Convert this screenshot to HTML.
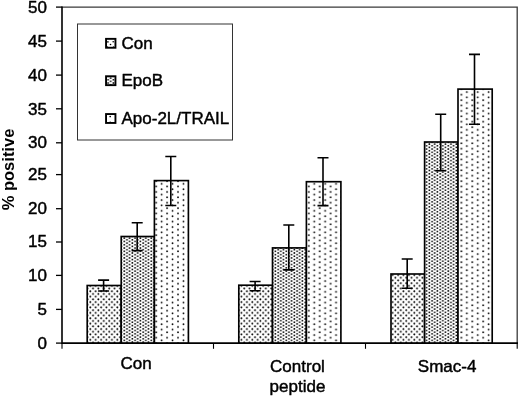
<!DOCTYPE html>
<html><head><meta charset="utf-8"><title>chart</title><style>html,body{margin:0;padding:0;background:#fff}</style></head><body>
<svg width="520" height="397" viewBox="0 0 520 397" style="display:block">
<defs>
<pattern id="p1" width="5.4" height="5.4" patternUnits="userSpaceOnUse" patternTransform="translate(0,1.15)">
<rect width="5.4" height="5.4" fill="#fff"/>
<circle cx="1.2" cy="1.2" r="0.95" fill="#000"/>
<circle cx="3.9" cy="3.9" r="0.95" fill="#000"/>
</pattern>
<pattern id="p2" width="5.4" height="3.3" patternUnits="userSpaceOnUse" patternTransform="translate(-1.15,-0.3)">
<rect width="5.4" height="3.3" fill="#fff"/>
<ellipse cx="1.2" cy="0.8" rx="0.95" ry="0.8" fill="#000"/>
<ellipse cx="3.9" cy="2.45" rx="0.95" ry="0.8" fill="#000"/>
</pattern>
<pattern id="p3" width="10.9" height="5.4" patternUnits="userSpaceOnUse" patternTransform="translate(1.6,1.8)">
<rect width="10.9" height="5.4" fill="#fff"/>
<circle cx="2" cy="1.2" r="0.9" fill="#000"/>
<circle cx="7.45" cy="3.9" r="0.9" fill="#000"/>
</pattern>
</defs>
<rect width="520" height="397" fill="#fff"/>
<path d="M62 7.1 H517.2 V343" stroke="#3a3a3a" stroke-width="1.3" fill="none"/>
<g stroke="#000" stroke-width="1.6" fill="none">
<path d="M62 6.4 V343.1 H518"/>
</g>
<g stroke="#000" stroke-width="1.3" fill="none">
<path d="M56 343.1 H62"/>
<path d="M56 309.4 H62"/>
<path d="M56 275.4 H62"/>
<path d="M56 242.0 H62"/>
<path d="M56 208.7 H62"/>
<path d="M56 174.6 H62"/>
<path d="M56 142.8 H62"/>
<path d="M56 108.8 H62"/>
<path d="M56 75.1 H62"/>
<path d="M56 41.1 H62"/>
<path d="M56 7.1 H62"/>
</g>
<g stroke="#000" stroke-width="1.1" fill="none">
<path d="M62 343 V348.8"/>
<path d="M213.5 343 V348.8"/>
<path d="M365.5 343 V348.8"/>
<path d="M517.2 343 V348.8"/>
</g>
<rect x="87.2" y="285.5" width="34.0" height="57.5" fill="url(#p1)" stroke="#000" stroke-width="1.65"/>
<rect x="121.2" y="236.5" width="33.2" height="106.5" fill="url(#p2)" stroke="#000" stroke-width="1.65"/>
<rect x="154.4" y="180.6" width="34.0" height="162.4" fill="url(#p3)" stroke="#000" stroke-width="1.65"/>
<path d="M103.6 280.1 V291.0 M98.1 280.1 h11 M98.1 291.0 h11" stroke="#000" stroke-width="1.6" fill="none"/>
<path d="M137.2 222.8 V250.6 M131.7 222.8 h11 M131.7 250.6 h11" stroke="#000" stroke-width="1.6" fill="none"/>
<path d="M170.8 156.5 V205.5 M165.3 156.5 h11 M165.3 205.5 h11" stroke="#000" stroke-width="1.6" fill="none"/>
<rect x="238.8" y="285.2" width="33.7" height="57.8" fill="url(#p1)" stroke="#000" stroke-width="1.65"/>
<rect x="272.5" y="247.9" width="33.9" height="95.1" fill="url(#p2)" stroke="#000" stroke-width="1.65"/>
<rect x="306.4" y="181.7" width="34.5" height="161.3" fill="url(#p3)" stroke="#000" stroke-width="1.65"/>
<path d="M255.1 281.5 V290.7 M249.6 281.5 h11 M249.6 290.7 h11" stroke="#000" stroke-width="1.6" fill="none"/>
<path d="M288.8 225.0 V269.9 M283.3 225.0 h11 M283.3 269.9 h11" stroke="#000" stroke-width="1.6" fill="none"/>
<path d="M323.0 157.8 V205.6 M317.5 157.8 h11 M317.5 205.6 h11" stroke="#000" stroke-width="1.6" fill="none"/>
<rect x="391.0" y="274.0" width="33.6" height="69.0" fill="url(#p1)" stroke="#000" stroke-width="1.65"/>
<rect x="424.6" y="142.0" width="33.4" height="201.0" fill="url(#p2)" stroke="#000" stroke-width="1.65"/>
<rect x="458.0" y="89.1" width="34.2" height="253.9" fill="url(#p3)" stroke="#000" stroke-width="1.65"/>
<path d="M407.2 259.0 V288.2 M401.7 259.0 h11 M401.7 288.2 h11" stroke="#000" stroke-width="1.6" fill="none"/>
<path d="M440.7 114.2 V170.7 M435.2 114.2 h11 M435.2 170.7 h11" stroke="#000" stroke-width="1.6" fill="none"/>
<path d="M474.5 54.4 V124.2 M469.0 54.4 h11 M469.0 124.2 h11" stroke="#000" stroke-width="1.6" fill="none"/>
<g font-family="Liberation Sans, Arial, sans-serif" font-size="17" fill="#000" stroke="#000" stroke-width="0.45" stroke-linejoin="round">
<text x="47" y="348.9" text-anchor="end">0</text>
<text x="47" y="315.1" text-anchor="end">5</text>
<text x="47" y="281.4" text-anchor="end">10</text>
<text x="47" y="247.4" text-anchor="end">15</text>
<text x="47" y="213.9" text-anchor="end">20</text>
<text x="47" y="180.0" text-anchor="end">25</text>
<text x="47" y="148.3" text-anchor="end">30</text>
<text x="47" y="114.6" text-anchor="end">35</text>
<text x="47" y="80.7" text-anchor="end">40</text>
<text x="47" y="46.9" text-anchor="end">45</text>
<text x="47" y="12.7" text-anchor="end">50</text>
<text x="136.2" y="369" text-anchor="middle">Con</text>
<text x="297.5" y="372" text-anchor="middle">Control</text>
<text x="297.5" y="391.5" text-anchor="middle">peptide</text>
<text x="447.1" y="372" text-anchor="middle">Smac-4</text>
</g>
<text transform="translate(14,169.5) rotate(-90)" text-anchor="middle" font-family="Liberation Sans, Arial, sans-serif" font-weight="bold" font-size="16.5" fill="#000">% positive</text>
<rect x="77.5" y="24" width="155" height="116" fill="#fff" stroke="#333" stroke-width="1"/>
<rect x="106.05" y="38.85" width="9.4" height="8.9" fill="#fff" stroke="#000" stroke-width="1.9"/>
<text x="121.5" y="48.7" font-family="Liberation Sans, Arial, sans-serif" font-size="17" fill="#000" stroke="#000" stroke-width="0.45" stroke-linejoin="round">Con</text>
<rect x="106.05" y="76.25" width="9.4" height="8.9" fill="url(#p2)" stroke="#000" stroke-width="1.9"/>
<text x="121.5" y="86.1" font-family="Liberation Sans, Arial, sans-serif" font-size="17" fill="#000" stroke="#000" stroke-width="0.45" stroke-linejoin="round">EpoB</text>
<rect x="106.05" y="114.05" width="9.4" height="8.9" fill="#fff" stroke="#000" stroke-width="1.9"/>
<text x="121.5" y="123.9" font-family="Liberation Sans, Arial, sans-serif" font-size="17" fill="#000" stroke="#000" stroke-width="0.45" stroke-linejoin="round">Apo-2L/TRAIL</text>
<g fill="#000"><circle cx="107.9" cy="41.9" r="0.8"/><circle cx="113.2" cy="41.7" r="0.8"/><circle cx="110.5" cy="44.5" r="0.8"/><circle cx="107.6" cy="46.9" r="0.6"/><circle cx="113.4" cy="46.9" r="0.6"/>
<circle cx="110.2" cy="116.5" r="0.85"/><circle cx="110.2" cy="122.2" r="0.8"/></g>
</svg>
</body></html>
